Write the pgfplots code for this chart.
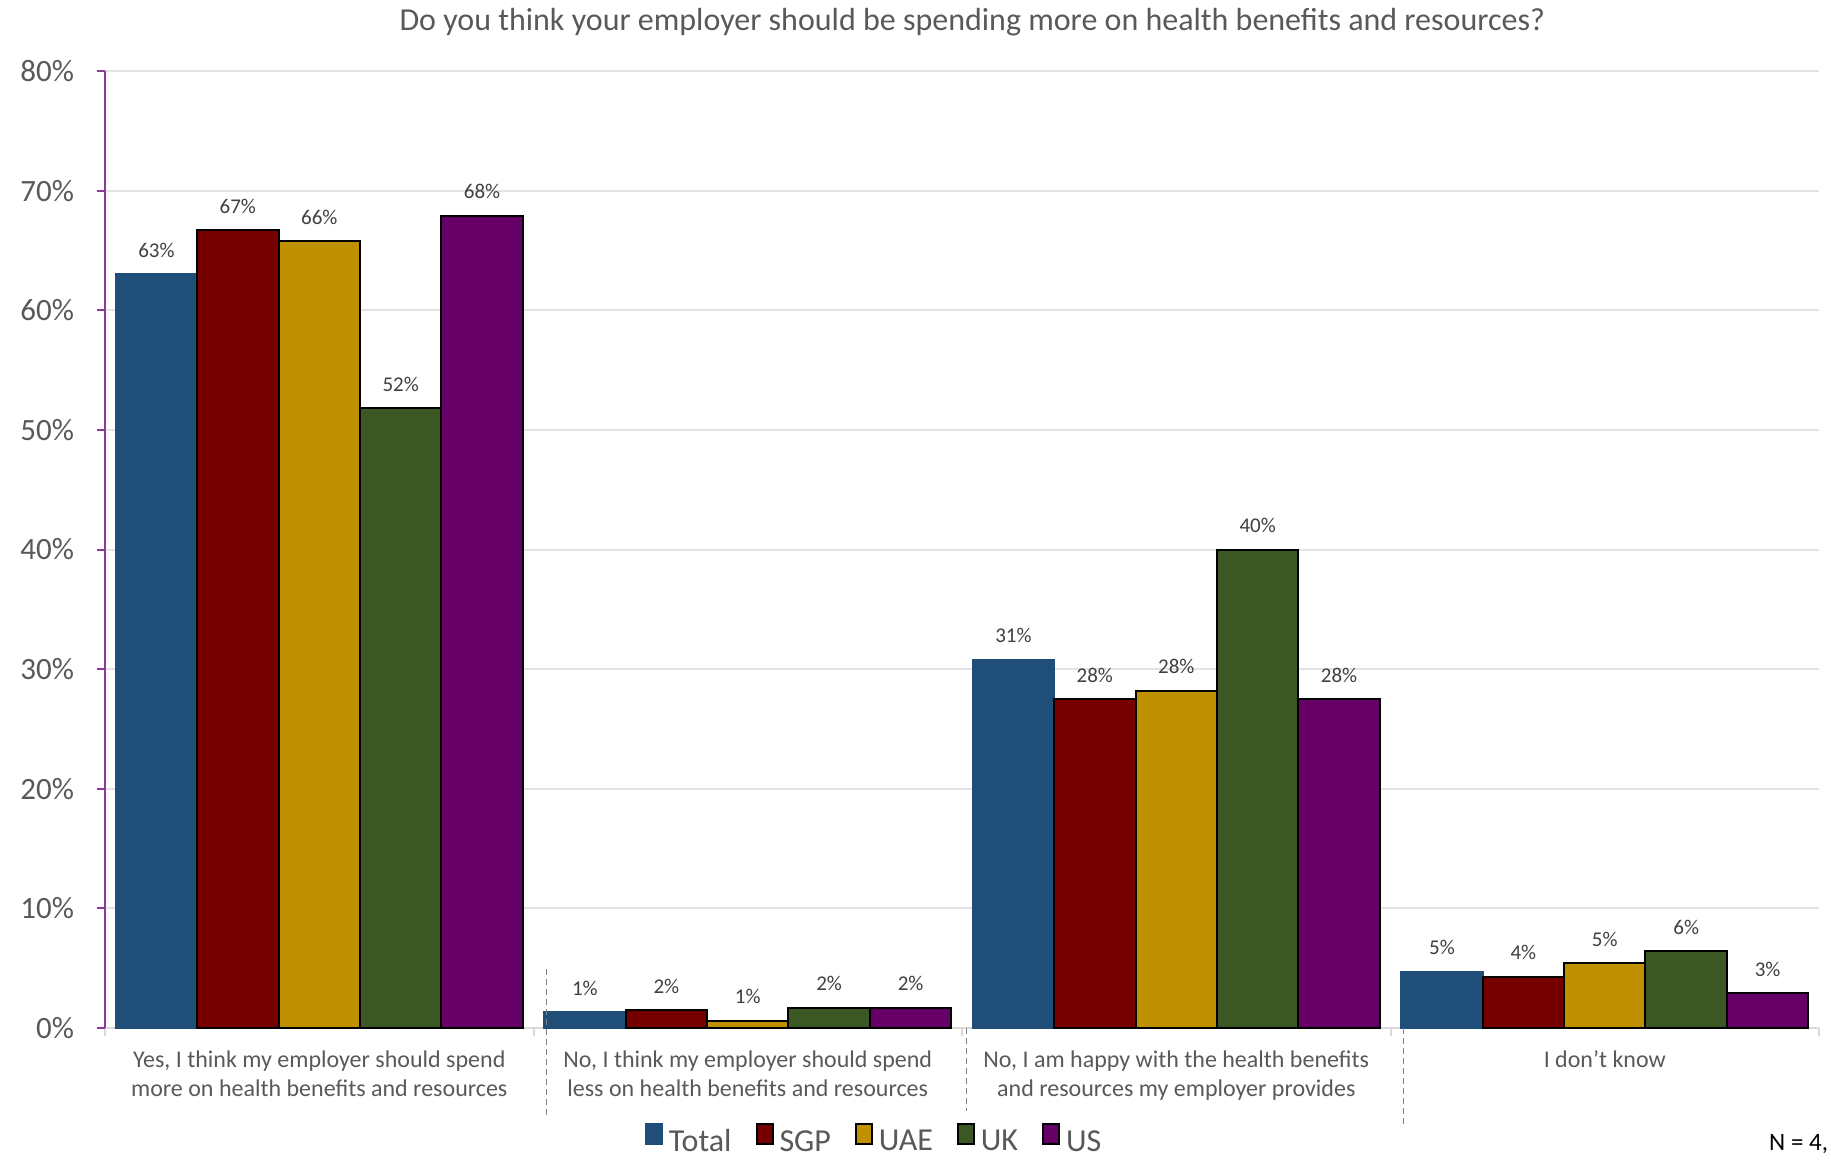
\documentclass[border=0pt]{standalone}
\usepackage{pgfplots}
\pgfplotsset{compat=1.18}
\usepackage{fontspec}
\setmainfont{Carlito}
\definecolor{cTotal}{HTML}{1F4E79}
\definecolor{cSGP}{HTML}{760000}
\definecolor{cUAE}{HTML}{BF9000}
\definecolor{cUK}{HTML}{3A5724}
\definecolor{cUS}{HTML}{660066}
\definecolor{yax}{HTML}{8B3A96}
\definecolor{labgray}{HTML}{595959}
\definecolor{datgray}{HTML}{404040}
\definecolor{gridgray}{HTML}{E3E3E3}
\definecolor{xaxgray}{HTML}{D9D9D9}
\begin{document}
\begin{tikzpicture}
\begin{axis}[
  name=ax,
  scale only axis,
  width=857pt, height=478.5pt,
  ybar=0pt,
  bar width=0.19,
  xmin=-0.5, xmax=3.5,
  ymin=0, ymax=80,
  clip=false,
  axis x line*=bottom,
  axis y line*=left,
  x axis line style={draw=xaxgray, line width=1pt},
  y axis line style={draw=yax, line width=1pt},
  tick align=outside,
  major tick length=4pt,
  ytick={0,10,...,80},
  yticklabels={0\%,10\%,20\%,30\%,40\%,50\%,60\%,70\%,80\%},
  yticklabel style={font=\fontsize{15.5}{17}\selectfont, text=labgray, xshift=-8pt},
  y tick style={draw=yax, line width=1pt},
  ymajorgrids,
  major grid style={draw=gridgray, line width=1pt},
  xtick={-0.5,0.5,1.5,2.5,3.5},
  xticklabels={},
  x tick style={draw=xaxgray, line width=1pt},
  extra x ticks={0,1,2,3},
  extra x tick labels={{Yes, I think my employer should spend\\more on health benefits and resources},{No, I think my employer should spend\\less on health benefits and resources},{No, I am happy with the health benefits\\and resources my employer provides},{I don't know}},
  extra x tick style={major tick length=0pt, xmajorgrids=false,
     xticklabel style={align=center, font=\fontsize{12}{14.6}\selectfont, text=labgray, yshift=-8pt}},
  point meta=explicit symbolic,
  nodes near coords={\pgfplotspointmeta\%},
  every node near coord/.append style={font=\fontsize{10.5}{12}\selectfont, text=datgray, yshift=4.5pt},
  every axis plot/.append style={legend image code/.code={\draw[##1] (0pt,-1pt) rectangle (8pt,9pt);}},
  legend columns=5,
  legend style={draw=none, fill=none, at={(0.4493,-0.118)}, anchor=center,
     font=\fontsize{16}{18}\selectfont, text=labgray,
     /tikz/every even column/.append style={column sep=10pt},
     /tikz/every odd column/.append style={column sep=1pt}},
]
\addplot[fill=cTotal, draw=cTotal, line width=1pt] coordinates {(0,63.0) [63] (1,1.3) [1] (2,30.8) [31] (3,4.7) [5]};
\addplot[fill=cSGP, draw=black, line width=1pt] coordinates {(0,66.7) [67] (1,1.5) [2] (2,27.5) [28] (3,4.3) [4]};
\addplot[fill=cUAE, draw=black, line width=1pt] coordinates {(0,65.8) [66] (1,0.6) [1] (2,28.2) [28] (3,5.4) [5]};
\addplot[fill=cUK, draw=black, line width=1pt] coordinates {(0,51.8) [52] (1,1.7) [2] (2,40.0) [40] (3,6.4) [6]};
\addplot[fill=cUS, draw=black, line width=1pt] coordinates {(0,67.9) [68] (1,1.7) [2] (2,27.5) [28] (3,2.9) [3]};
\legend{Total,SGP,UAE,UK,US}
\draw[densely dashed, draw=gray, line width=0.6pt] (axis cs:0.53,4.9) -- (axis cs:0.53,-7.3);
\draw[densely dashed, draw=gray, line width=0.6pt] (axis cs:1.51,0) -- (axis cs:1.51,-6.9);
\draw[densely dashed, draw=gray, line width=0.6pt] (axis cs:2.53,0) -- (axis cs:2.53,-8.0);
\node[font=\fontsize{16}{18}\selectfont, text=labgray] at (rel axis cs:0.506,1.051) {Do you think your employer should be spending more on health benefits and resources?};
\node[anchor=east, inner sep=0pt, font=\fontsize{12.5}{14}\selectfont, text=black] at (rel axis cs:1.0055,-0.1212) {N = 4,};
\end{axis}
\pgfresetboundingbox
\path ([shift={(-52.5pt,-65.5pt)}]ax.south west) rectangle ([shift={(6pt,35.5pt)}]ax.north east);
\end{tikzpicture}
\end{document}
